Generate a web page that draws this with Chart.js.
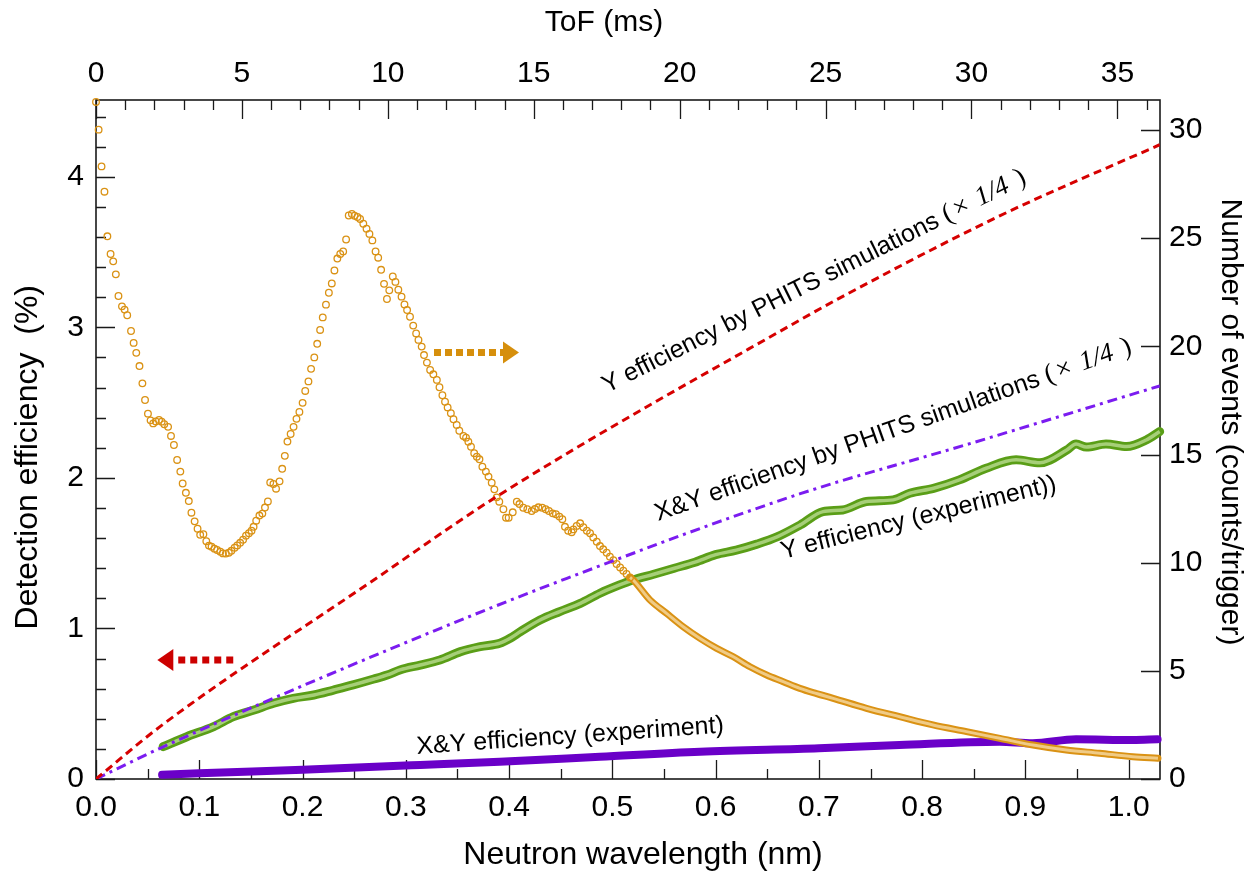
<!DOCTYPE html>
<html>
<head>
<meta charset="utf-8">
<title>Detection efficiency vs neutron wavelength</title>
<script src="https://cdn.jsdelivr.net/npm/chart.js@4.4.1/dist/chart.umd.min.js"></script>
<style>
  html, body { margin: 0; padding: 0; background: #fff; }
  #wrap { width: 1257px; height: 876px; position: relative; }
</style>
</head>
<body>
<div id="wrap"><canvas id="effChart"></canvas></div>
<script>
// Y efficiency by PHITS (x1/4), red dashed
const phitsYWl  = [0, 0.062, 0.269, 0.388, 0.682, 0.72, 0.875, 1.030];
const phitsYEff = [0, 0.348, 1.322, 1.876, 3.05, 3.194, 3.740, 4.213];

// X&Y efficiency by PHITS (x1/4), purple dash-dot
const phitsXYWl  = [0, 0.062, 0.314, 0.456, 0.682, 0.843, 1.030];
const phitsXYEff = [0, 0.204, 0.946, 1.333, 1.895, 2.221, 2.611];

// Y efficiency (experiment), green
const expYWl  = [0.065, 0.088, 0.114, 0.133, 0.153, 0.172, 0.191, 0.211, 0.230, 0.249, 0.269, 0.282, 0.295, 0.314, 0.333,
  0.353, 0.372, 0.391, 0.401, 0.411, 0.430, 0.449, 0.469, 0.488, 0.507, 0.520, 0.54, 0.56, 0.58, 0.60, 0.62, 0.64, 0.66,
  0.682, 0.704, 0.723, 0.746, 0.772, 0.788, 0.811, 0.836, 0.862, 0.891, 0.914, 0.940, 0.949, 0.959, 0.978, 0.998, 1.017, 1.030];
const expYEff = [0.215, 0.281, 0.348, 0.414, 0.458, 0.503, 0.536, 0.558, 0.591, 0.625, 0.664, 0.691, 0.726, 0.757, 0.791,
  0.846, 0.879, 0.902, 0.935, 0.979, 1.056, 1.112, 1.167, 1.234, 1.289, 1.322, 1.36, 1.40, 1.44, 1.49, 1.52, 1.56, 1.61,
  1.688, 1.776, 1.787, 1.843, 1.854, 1.898, 1.931, 1.987, 2.064, 2.12, 2.10, 2.185, 2.225, 2.205, 2.225, 2.208, 2.252, 2.308];

// X&Y efficiency (experiment), purple
const expXYWl  = [0.064, 0.10, 0.20, 0.314, 0.391, 0.488, 0.585, 0.70, 0.778, 0.875, 0.907, 0.949, 1.004, 1.028];
const expXYEff = [0.028, 0.038, 0.062, 0.093, 0.115, 0.148, 0.181, 0.205, 0.226, 0.248, 0.237, 0.264, 0.259, 0.264];

// number of events vs ToF, orange circles
const tofMs = [0.00,0.09,0.19,0.29,0.39,0.50,0.59,0.68,0.77,0.89, 0.98,1.07,1.20,1.29,1.38,1.49,1.59,1.68,1.78,1.87,
  1.96,2.05,2.16,2.25,2.34,2.47,2.57,2.67,2.78,2.89, 2.97,3.08,3.18,3.27,3.38,3.48,3.57,3.68,3.78,3.87,
  3.96,4.06,4.15,4.26,4.35,4.45,4.55,4.64,4.75,4.84, 4.94,5.04,5.14,5.24,5.33,5.40,5.49,5.60,5.70,5.79,
  5.89,5.97,6.08,6.17,6.29,6.38,6.47,6.56,6.67,6.77, 6.87,6.97,7.08,7.17,7.28,7.37,7.48,7.58,7.68,7.77,
  7.88,7.98,8.08,8.17,8.27,8.37,8.47,8.57,8.66,8.77, 8.86,8.96,9.05,9.16,9.27,9.37,9.47,9.58,9.67,9.77,
  9.87,9.97,10.05,10.17,10.26,10.36,10.47,10.57,10.66,10.76, 10.87,10.97,11.05,11.16,11.24,11.34,11.45,11.56,11.68,11.77,
  11.87,11.96,12.05,12.16,12.25,12.36,12.45,12.59,12.68,12.76, 12.85,12.96,13.05,13.14,13.24,13.36,13.45,13.56,13.65,13.73,
  13.82,13.96,14.05,14.14,14.28,14.42,14.51,14.64,14.78,14.93, 15.04,15.16,15.29,15.41,15.52,15.65,15.76,15.88,15.98,16.07,
  16.18,16.30,16.36,16.47,16.59,16.70,16.82,16.93,17.04,17.16, 17.27,17.38,17.50,17.61,17.73,17.84,17.96,18.07,18.18,18.30];
const eventsPerTrigger = [31.3,30.02,28.32,27.15,25.09,24.27,23.93,23.33,22.33,21.85, 21.70,21.44,20.71,20.16,19.70,19.09,18.29,17.52,16.89,16.58,
  16.44,16.53,16.60,16.52,16.40,16.28,15.86,15.44,14.75,14.21, 13.66,13.23,12.85,12.31,11.91,11.57,11.29,11.32,10.99,10.79,
  10.74,10.65,10.59,10.51,10.43,10.42,10.46,10.55,10.69,10.80, 10.92,11.06,11.25,11.36,11.48,11.66,11.94,12.18,12.27,12.55,
  12.83,13.71,13.64,13.42,13.76,14.34,14.94,15.60,15.95,16.28, 16.65,16.97,17.39,17.94,18.38,18.96,19.49,20.12,20.76,21.34,
  21.93,22.48,22.91,23.51,24.06,24.27,24.39,24.94,26.05,26.12, 26.04,25.98,25.89,25.67,25.44,25.20,24.90,24.39,24.10,23.54,
  22.89,22.19,22.59,23.23,22.98,22.62,22.30,21.94,21.68,21.37, 20.96,20.60,20.30,19.99,19.60,19.25,18.91,18.71,18.45,18.11,
  17.74,17.44,17.18,16.91,16.63,16.37,16.10,15.86,15.78,15.59, 15.36,15.06,14.90,14.78,14.44,14.21,13.98,13.70,13.39,13.02,
  12.82,12.47,12.08,12.08,12.33,12.82,12.71,12.54,12.47,12.39, 12.48,12.56,12.54,12.47,12.39,12.28,12.24,12.13,12.01,11.66,
  11.48,11.41,11.54,11.70,11.82,11.64,11.48,11.36,11.17,10.97, 10.77,10.62,10.46,10.28,10.12,9.94,9.78,9.63,9.48,9.32];
// dense tail, drawn as a band
const tofTailMs = [18.30,18.41,18.98,19.55,20.12,20.70,21.27,21.84,22.41,22.98,23.55,24.12,24.69,25.26,26.40,27.54,28.68,29.83,30.97,32.11,33.25,34.39,35.53,36.39];
const eventsTail = [9.32,9.20,8.28,7.66,7.04,6.50,6.04,5.65,5.19,4.81,4.50,4.19,3.95,3.73,3.27,2.88,2.50,2.19,1.88,1.57,1.34,1.19,1.03,0.96];

const FONT = '"Liberation Sans", Arial, sans-serif';
const SERIF = '"Liberation Serif", "Times New Roman", serif';

const pts = (xs, ys) => xs.map((x, i) => ({x: x, y: ys[i]}));

// text labels drawn along the curves (position in wavelength / efficiency units)
const curveLabels = [
  {text: 'Y efficiency by PHITS simulations ', math: true, wl: 0.4948, eff: 2.563, angle: -26.6},
  {text: 'X&Y efficiency by PHITS simulations ', math: true, wl: 0.5442, eff: 1.714, angle: -19.5},
  {text: 'Y efficiency (experiment))', math: false, wl: 0.6653, eff: 1.462, angle: -14},
  {text: 'X&Y efficiency (experiment)', math: false, wl: 0.3108, eff: 0.166, angle: -4}
];
const arrows = [
  {from: 0.3273, to: 0.4096, eff: 2.833, color: '#d68f0c', dash: [7, 4]},
  {from: 0.1329, to: 0.0594, eff: 0.791, color: '#cc0000', dash: [7, 5]}
];

function drawMathTail(ctx, x) {
  // "(× 1/4 )" in a serif face
  const parts = [['(', ''], ['\u00d7', ''], [' 1/4', 'italic '], [' )', '']];
  parts.forEach(p => {
    ctx.font = p[1] + '27px ' + SERIF;
    ctx.fillText(p[0], x, 0);
    x += ctx.measureText(p[0]).width + 3;
  });
}

function drawArrow(ctx, x0, x1, y, color, dash) {
  const dir = x1 > x0 ? 1 : -1;
  const xb = x1 - dir * 16;
  ctx.save();
  ctx.strokeStyle = color;
  ctx.lineWidth = 7;
  ctx.setLineDash(dash);
  ctx.beginPath();
  ctx.moveTo(x0, y);
  ctx.lineTo(xb, y);
  ctx.stroke();
  ctx.setLineDash([]);
  ctx.fillStyle = color;
  ctx.beginPath();
  ctx.moveTo(x1, y);
  ctx.lineTo(xb, y - 11);
  ctx.lineTo(xb, y + 11);
  ctx.closePath();
  ctx.fill();
  ctx.restore();
}

// inward tick marks + frame
const frameTicks = {
  id: 'frameTicks',
  beforeDatasetsDraw(chart) {
    const {ctx, chartArea: a, scales} = chart;
    ctx.save();
    ctx.strokeStyle = '#1a1a1a';
    ctx.lineWidth = 1.3;
    ctx.beginPath();
    for (let i = 0; i * 0.05 <= scales.x.max; i++) {
      const px = Math.round(scales.x.getPixelForValue(i * 0.05)) + 0.5;
      const len = i % 2 === 0 ? 19 : 10;
      ctx.moveTo(px, a.bottom); ctx.lineTo(px, a.bottom - len);
    }
    for (let t = 0; t <= scales.x2.max; t++) {
      const px = Math.round(scales.x2.getPixelForValue(t)) + 0.5;
      const len = t % 5 === 0 ? 19 : 10;
      ctx.moveTo(px, a.top); ctx.lineTo(px, a.top + len);
    }
    for (let i = 0; i * 0.2 <= scales.y.max; i++) {
      const py = Math.round(scales.y.getPixelForValue(i * 0.2)) + 0.5;
      const len = i % 5 === 0 ? 19 : 10;
      ctx.moveTo(a.left, py); ctx.lineTo(a.left + len, py);
    }
    for (let v = 0; v <= scales.y2.max; v += 5) {
      const py = Math.round(scales.y2.getPixelForValue(v)) + 0.5;
      ctx.moveTo(a.right, py); ctx.lineTo(a.right - 19, py);
    }
    ctx.stroke();
    ctx.lineWidth = 1.6;
    ctx.strokeRect(a.left, a.top, a.right - a.left, a.bottom - a.top);
    ctx.restore();
  }
};

// axis titles, curve labels and arrows
const annotations = {
  id: 'annotations',
  afterDatasetsDraw(chart) {
    const {ctx, scales} = chart;
    ctx.save();
    ctx.fillStyle = '#000';
    ctx.textAlign = 'center';
    ctx.textBaseline = 'middle';
    ctx.font = '32px ' + FONT;
    ctx.fillText('Neutron wavelength (nm)', 643, 855);
    ctx.font = '30px ' + FONT;
    ctx.fillText('ToF (ms)', 604, 23);
    ctx.save();
    ctx.translate(28, 285);
    ctx.rotate(-Math.PI / 2);
    ctx.textAlign = 'right';
    ctx.font = '32px ' + FONT;
    ctx.fillText('Detection efficiency  (%)', 0, 0);
    ctx.restore();
    ctx.save();
    ctx.translate(1230, 422);
    ctx.rotate(Math.PI / 2);
    ctx.font = '30px ' + FONT;
    ctx.fillText('Number of events (counts/trigger)', 0, 0);
    ctx.restore();

    ctx.textAlign = 'left';
    ctx.textBaseline = 'alphabetic';
    curveLabels.forEach(l => {
      ctx.save();
      ctx.translate(scales.x.getPixelForValue(l.wl), scales.y.getPixelForValue(l.eff));
      ctx.rotate(l.angle * Math.PI / 180);
      ctx.font = '25px ' + FONT;
      ctx.fillText(l.text, 0, 0);
      if (l.math) drawMathTail(ctx, ctx.measureText(l.text).width);
      ctx.restore();
    });

    arrows.forEach(ar => {
      drawArrow(ctx, scales.x.getPixelForValue(ar.from), scales.x.getPixelForValue(ar.to),
        scales.y.getPixelForValue(ar.eff), ar.color, ar.dash);
    });
    ctx.restore();
  }
};

const tickFont = {family: FONT, size: 30};
const ctx = document.getElementById('effChart').getContext('2d');

new Chart(ctx, {
  type: 'scatter',
  data: {
    datasets: [
      {
        label: 'Y efficiency by PHITS simulations (x1/4)',
        data: pts(phitsYWl, phitsYEff),
        showLine: true, pointRadius: 0, borderColor: '#d60000', borderWidth: 3, borderDash: [8, 5],
        cubicInterpolationMode: 'monotone', xAxisID: 'x', yAxisID: 'y', order: 1
      },
      {
        label: 'X&Y efficiency by PHITS simulations (x1/4)',
        data: pts(phitsXYWl, phitsXYEff),
        showLine: true, pointRadius: 0, borderColor: '#7b1cf0', borderWidth: 3, borderDash: [10, 5, 3, 5],
        cubicInterpolationMode: 'monotone', xAxisID: 'x', yAxisID: 'y', order: 2
      },
      {
        label: 'Number of events',
        data: pts(tofMs, eventsPerTrigger),
        showLine: false, pointStyle: 'circle', pointRadius: 3.3, pointBorderWidth: 1.3,
        pointBorderColor: '#da9214', pointBackgroundColor: 'rgba(0,0,0,0)',
        xAxisID: 'x2', yAxisID: 'y2', order: 3, clip: false
      },
      {
        label: 'Number of events (tail inner)',
        data: pts(tofTailMs, eventsTail),
        showLine: true, pointRadius: 0, borderColor: '#f0cb86', borderWidth: 3,
        cubicInterpolationMode: 'monotone', xAxisID: 'x2', yAxisID: 'y2', order: 4, clip: false
      },
      {
        label: 'Number of events (tail)',
        data: pts(tofTailMs, eventsTail),
        showLine: true, pointRadius: 0, borderColor: '#da9214', borderWidth: 7, borderCapStyle: 'round',
        cubicInterpolationMode: 'monotone', xAxisID: 'x2', yAxisID: 'y2', order: 5, clip: false
      },
      {
        label: 'X&Y efficiency (experiment)',
        data: pts(expXYWl, expXYEff),
        showLine: true, pointRadius: 0, borderColor: '#6a00c8', borderWidth: 8, borderCapStyle: 'round',
        cubicInterpolationMode: 'monotone', xAxisID: 'x', yAxisID: 'y', order: 6, clip: false
      },
      {
        label: 'Y efficiency (experiment) inner',
        data: pts(expYWl, expYEff),
        showLine: true, pointRadius: 0, borderColor: '#a6cf78', borderWidth: 3.5,
        cubicInterpolationMode: 'monotone', xAxisID: 'x', yAxisID: 'y', order: 7, clip: false
      },
      {
        label: 'Y efficiency (experiment)',
        data: pts(expYWl, expYEff),
        showLine: true, pointRadius: 0, borderColor: '#5a9e17', borderWidth: 9, borderCapStyle: 'round',
        cubicInterpolationMode: 'monotone', xAxisID: 'x', yAxisID: 'y', order: 8, clip: false
      }
    ]
  },
  options: {
    responsive: true,
    maintainAspectRatio: false,
    animation: false,
    layout: {padding: 0},
    plugins: {legend: {display: false}, tooltip: {enabled: false}},
    scales: {
      x: {
        type: 'linear', position: 'bottom', min: 0, max: 1.0303,
        ticks: {stepSize: 0.1, includeBounds: false, autoSkip: false, maxRotation: 0, padding: 11,
          color: '#000', font: tickFont, callback: v => v.toFixed(1)},
        grid: {display: false, drawTicks: false}, border: {display: false},
        afterFit: s => { s.height = 97; }
      },
      x2: {
        type: 'linear', position: 'top', min: 0, max: 36.46,
        ticks: {stepSize: 5, includeBounds: false, autoSkip: false, maxRotation: 0, padding: 8,
          color: '#000', font: tickFont},
        grid: {display: false, drawTicks: false}, border: {display: false},
        afterFit: s => { s.height = 100; }
      },
      y: {
        type: 'linear', position: 'left', min: 0, max: 4.51,
        ticks: {stepSize: 1, includeBounds: false, padding: 12, color: '#000', font: tickFont},
        grid: {display: false, drawTicks: false}, border: {display: false},
        afterFit: s => { s.width = 96; }
      },
      y2: {
        type: 'linear', position: 'right', min: 0, max: 31.39,
        ticks: {stepSize: 5, includeBounds: false, padding: 9, color: '#000', font: tickFont},
        grid: {display: false, drawTicks: false}, border: {display: false},
        afterFit: s => { s.width = 97; }
      }
    }
  },
  plugins: [frameTicks, annotations]
});
</script>
</body>
</html>
